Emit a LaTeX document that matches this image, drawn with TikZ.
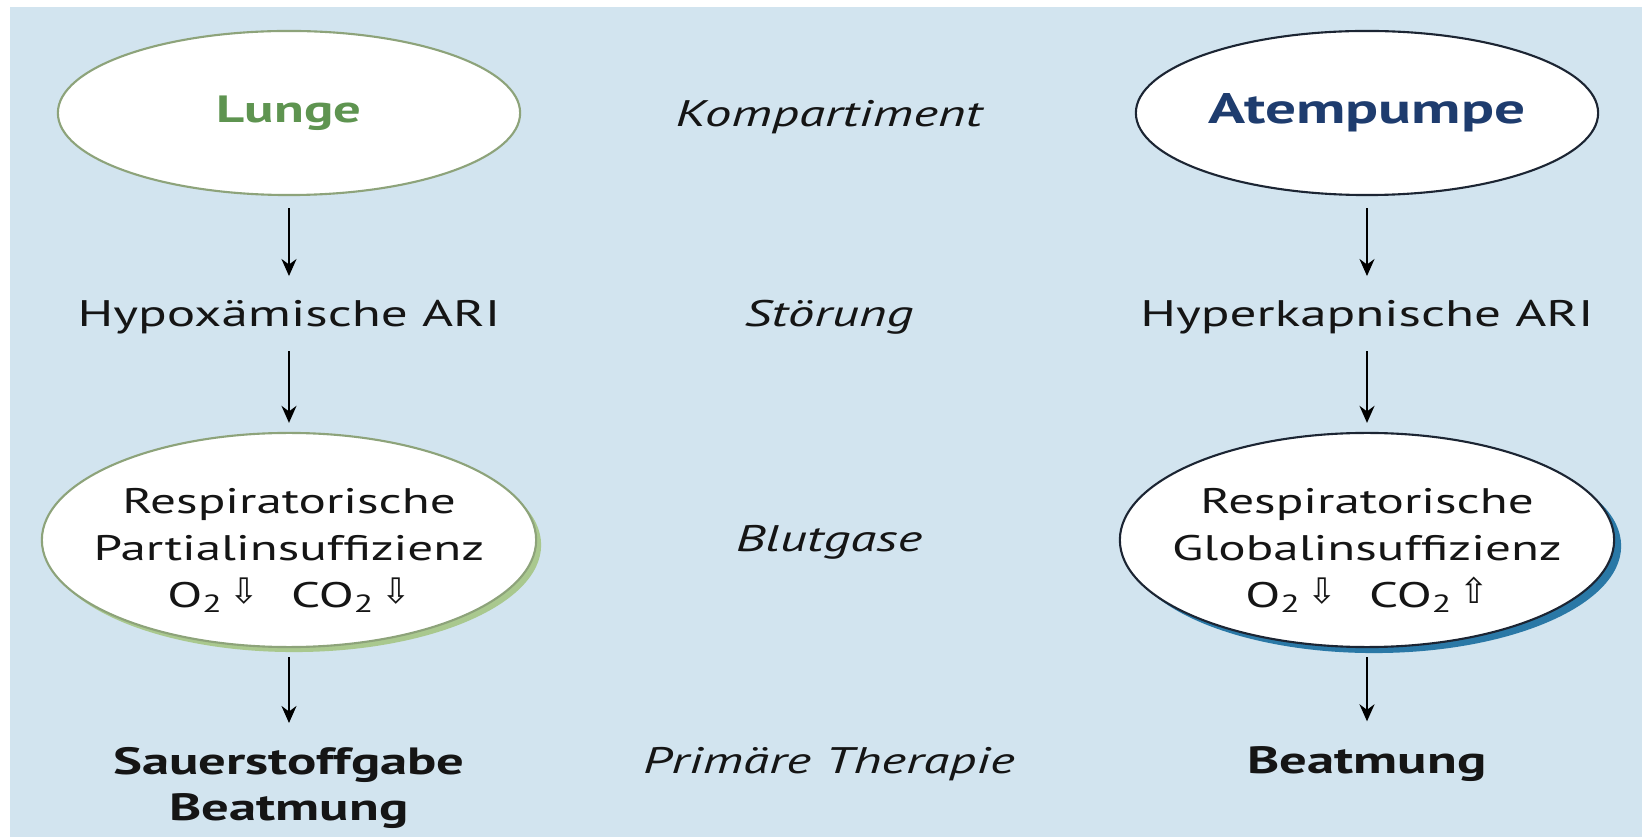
\documentclass[tikz,border=0pt]{standalone}
\usepackage{fontspec}
\usepackage{graphicx}
\setmainfont[FakeStretch=1.44]{PT Sans}
\newfontfamily\arrowfont{DejaVu Sans}
\usetikzlibrary{shapes.geometric,shadows,arrows.meta}

\definecolor{panelblue}{HTML}{D2E4EF}
\definecolor{lungeline}{HTML}{8DA37A}
\definecolor{lungetext}{HTML}{5E9450}
\definecolor{pumpline}{HTML}{1C2533}
\definecolor{pumptext}{HTML}{1E3C6E}
\definecolor{partshadow}{HTML}{A9C88E}
\definecolor{globshadow}{HTML}{2A78A6}
\definecolor{txtblack}{HTML}{151515}

\newcommand{\gasdown}{\,\raisebox{1.2pt}{\arrowfont\fontsize{10}{10}\selectfont ⇩}}
\newcommand{\gasup}{\,\raisebox{1.2pt}{\arrowfont\fontsize{10}{10}\selectfont ⇧}}

\begin{document}
\begin{tikzpicture}[x=0.01cm,y=-0.01cm,
	every node/.style={inner sep=0pt,text=txtblack,font=\fontsize{10.5}{13.1}\selectfont},
	organ/.style={ellipse,draw,fill=white,line width=0.6pt,minimum width=4.62cm,minimum height=1.64cm,font=\fontsize{10.8}{13.1}\selectfont\bfseries},
	insuff/.style={ellipse,draw,fill=white,line width=0.6pt,minimum width=4.94cm,minimum height=2.14cm},
	gastext/.style={align=center,anchor=north,font=\fontsize{10.1}{13.3}\selectfont},
	level/.style={anchor=base,font=\fontsize{10.5}{13.1}\selectfont\itshape},
	therapy/.style={align=center,font=\fontsize{10.8}{13.1}\selectfont\bfseries},
	flow/.style={-{Stealth[length=1.7mm,width=1.5mm]},line width=0.6pt}]
		\fill [white] (0,0) rectangle (1642,837);
		\fill [panelblue] (10,7) rectangle (1642,837);
		\node [organ,draw=lungeline,text=lungetext] (lunge) at (289,113) {Lunge};
		\node [organ,draw=pumpline,text=pumptext,font=\fontsize{12.1}{13.1}\selectfont\bfseries] (pumpe) at (1367,113) {Atempumpe};
		\node [level] (kompart) at (829,127) {Kompartiment};
		\node [anchor=base] (hypox) at (289,327) {Hypoxämische ARI};
		\node [anchor=base] (hyperk) at (1367,327) {Hyperkapnische ARI};
		\node [level] (stoer) at (829,327) {Störung};
		\node [insuff,draw=lungeline,drop shadow={shadow xshift=0.05cm,shadow yshift=-0.05cm,fill=partshadow,opacity=1}] (partial) at (289,540) {};
		\node [gastext] (partialtxt) at (289,488)
			{Respiratorische\\Partialinsuffizienz\\O\textsubscript{2}\gasdown\hspace{0.9em}CO\textsubscript{2}\gasdown};
		\node [insuff,draw=pumpline,drop shadow={shadow xshift=0.07cm,shadow yshift=-0.06cm,fill=globshadow,opacity=1}] (global) at (1367,540) {};
		\node [gastext] (globaltxt) at (1367,488)
			{Respiratorische\\Globalinsuffizienz\\O\textsubscript{2}\gasdown\hspace{0.9em}CO\textsubscript{2}\gasup};
		\node [level] (blutgase) at (829,552) {Blutgase};
		\node [therapy,anchor=north] (sauer) at (289,747) {Sauerstoffgabe\\Beatmung};
		\node [therapy,anchor=base] (beatm) at (1367,773) {Beatmung};
		\node [level] (primaer) at (829,773) {Primäre Therapie};
		\draw [flow,shorten <=0.12cm,shorten >=0.24cm] (lunge) -- (hypox);
		\draw [flow,shorten <=0.12cm,shorten >=0.24cm] (pumpe) -- (hyperk);
		\draw [flow,shorten <=0.16cm,shorten >=0.09cm] (hypox) -- (partial);
		\draw [flow,shorten <=0.16cm,shorten >=0.09cm] (hyperk) -- (global);
		\draw [flow,shorten <=0.09cm,shorten >=0.24cm] (partial) -- (sauer);
		\draw [flow,shorten <=0.09cm,shorten >=0.24cm] (global) -- (beatm);
	\end{tikzpicture}
\end{document}
